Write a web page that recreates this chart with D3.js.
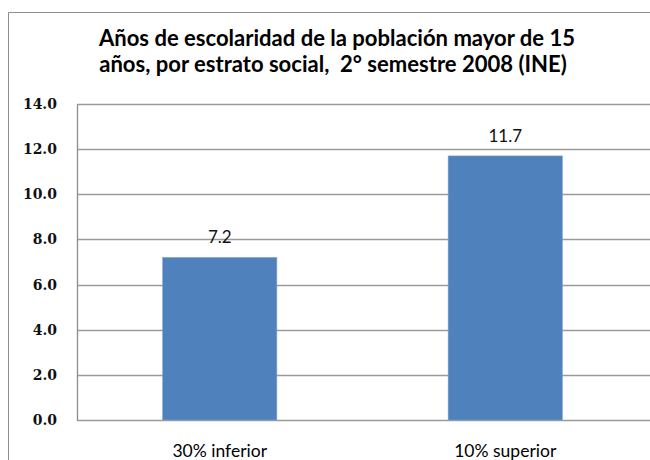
<!DOCTYPE html>
<html>
<head>
<meta charset="utf-8">
<script src="https://cdn.jsdelivr.net/npm/d3@7"></script>
<style>
  body { margin: 0; background: #fff; }
  svg { display: block; }
  .title text { white-space: pre; }
</style>
</head>
<body>
<script>

var categories = ["30% inferior", "10% superior"];
var values = [7.2, 11.7];
var yTicks = [0, 2, 4, 6, 8, 10, 12, 14];
var titleLines = ["Años de escolaridad de la población mayor de 15",
                  "años, por estrato social,  2° semestre 2008 (INE)"];

var width = 650, height = 460;
var margin = {left: 77, right: 2, top: 104, bottom: 40};
var plotW = width - margin.left - margin.right;
var plotH = height - margin.top - margin.bottom;

var svg = d3.select("body").append("svg")
    .attr("width", width)
    .attr("height", height);

// outer chart frame (only top & left visible, rest is cut off)
svg.append("path")
    .attr("fill", "none")
    .attr("stroke", "#8c8c8c")
    .attr("stroke-width", 1)
    .attr("d", "M8.5,460 L8.5,12.5 L650,12.5");

// title, sized so that the first line fits the reference width
var title = svg.append("g").attr("class", "title");
var titleFont = 18;
var titleTexts = titleLines.map(function (t, i) {
    return title.append("text")
        .attr("x", i == 0 ? 337 : 333)
        .attr("y", 46 + i * 26)
        .attr("text-anchor", "middle")
        .attr("font-family", "Lato, 'Open Sans', sans-serif")
        .attr("font-weight", "bold")
        .attr("font-size", titleFont)
        .attr("fill", "#000")
        .text(t);
});
var w0 = titleTexts[0].node().getComputedTextLength();
titleTexts.forEach(function (tx) {
    tx.attr("font-size", (titleFont * 476 / w0).toFixed(2));
});

var chartGroup = svg.append("g")
    .attr("transform", "translate(" + margin.left + "," + margin.top + ")");

var x = d3.scaleBand()
    .domain(categories)
    .range([0, plotW])
    .paddingInner(0.6)
    .paddingOuter(0.3);

var y = d3.scaleLinear()
    .domain([0, 14])
    .range([plotH, 0]);

// gridlines
chartGroup.append("g")
    .attr("class", "grid")
    .selectAll("line")
    .data(yTicks)
    .enter().append("line")
    .attr("x1", 0)
    .attr("x2", plotW + margin.right)
    .attr("y1", function (d) { return Math.round(y(d)) + 0.5; })
    .attr("y2", function (d) { return Math.round(y(d)) + 0.5; })
    .attr("stroke", "#9a9a9a")
    .attr("stroke-width", 1.3);

// y axis
var yAxis = d3.axisLeft(y)
    .tickValues(yTicks)
    .tickSize(0)
    .tickPadding(20)
    .tickFormat(d3.format(".1f"));

var yg = chartGroup.append("g")
    .attr("class", "axis y")
    .call(yAxis);
yg.select(".domain")
    .attr("stroke", "#8c8c8c")
    .attr("stroke-width", 1.3);
yg.selectAll("text")
    .attr("font-family", "'DejaVu Serif', serif")
    .attr("font-weight", "bold")
    .attr("font-size", 14)
    .attr("fill", "#111");

// bars
chartGroup.selectAll("rect.bar")
    .data(values)
    .enter().append("rect")
    .attr("class", "bar")
    .attr("x", function (d, i) { return x(categories[i]); })
    .attr("y", function (d) { return y(d); })
    .attr("width", x.bandwidth())
    .attr("height", function (d) { return plotH - y(d); })
    .attr("fill", "#4f81bd")
    .attr("stroke", "#7fa3d0")
    .attr("stroke-width", 0.6);

// value labels
chartGroup.selectAll("text.value")
    .data(values)
    .enter().append("text")
    .attr("class", "value")
    .attr("x", function (d, i) { return x(categories[i]) + x.bandwidth() / 2; })
    .attr("y", function (d) { return y(d) - 14; })
    .attr("text-anchor", "middle")
    .attr("font-family", "Lato, 'Open Sans', sans-serif")
    .attr("font-size", 17)
    .attr("fill", "#111")
    .text(function (d) { return d.toFixed(1); });

// category labels
chartGroup.selectAll("text.cat")
    .data(categories)
    .enter().append("text")
    .attr("class", "cat")
    .attr("x", function (d) { return x(d) + x.bandwidth() / 2; })
    .attr("y", plotH + 37)
    .attr("text-anchor", "middle")
    .attr("font-family", "Lato, 'Open Sans', sans-serif")
    .attr("font-size", 17.5)
    .attr("fill", "#000")
    .text(function (d) { return d; });

</script>
</body>
</html>
